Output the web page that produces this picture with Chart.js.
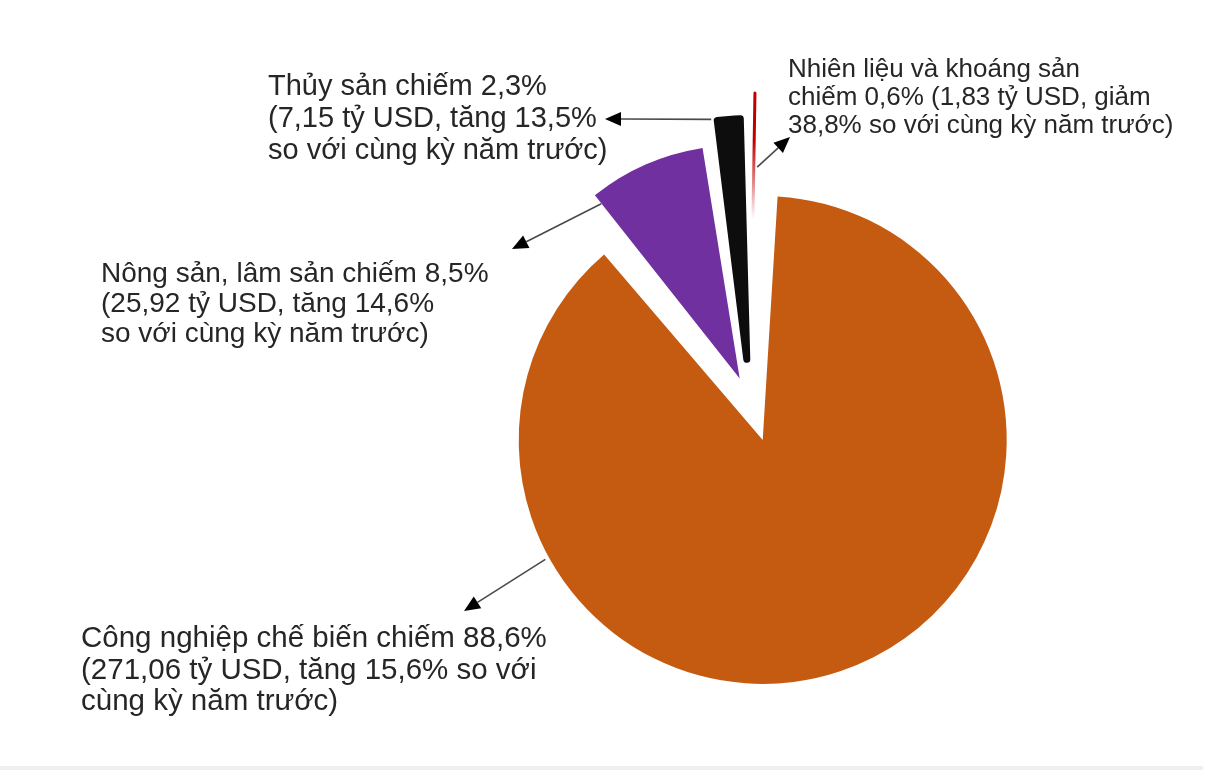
<!DOCTYPE html>
<html lang="vi">
<head>
<meta charset="utf-8">
<title>Cơ cấu xuất khẩu</title>
<script src="https://cdn.jsdelivr.net/npm/chart.js@4.4.1/dist/chart.umd.min.js"></script>
<style>
  html, body { margin: 0; padding: 0; background: #fff; }
  #khung { position: relative; width: 1212px; height: 770px; overflow: hidden; }
  #grafico { display: block; }
  #linea-inferior { position: absolute; left: 0; top: 766px; width: 1203px; height: 4px; background: #efefef; }
</style>
</head>
<body>
<div id="khung">
  <canvas id="grafico" width="1212" height="766"></canvas>
  <div id="linea-inferior"></div>
</div>
<script>
// datos del gráfico
const categorias = ["Công nghiệp chế biến", "Nông sản, lâm sản", "Thủy sản", "Nhiên liệu và khoáng sản"];
const porcentajes = [88.6, 8.5, 2.3, 0.6];      // % del total
const valores = [271.06, 25.92, 7.15, 1.83];    // tỷ USD
const variacion = [15.6, 14.6, 13.5, -38.8];    // % so với cùng kỳ

const colores = ["#C55A11", "#7030A0", "#0D0D0D", "#C00000"];

// formato vietnamita: coma decimal
const fmt = (v) => String(Math.abs(v)).replace(".", ",");
const verbo = (v) => (v >= 0 ? "tăng" : "giảm");

// textos de cada etiqueta, partidos en renglones como en el original
const textos = [
  [
    `${categorias[0]} chiếm ${fmt(porcentajes[0])}%`,
    `(${fmt(valores[0])} tỷ USD, ${verbo(variacion[0])} ${fmt(variacion[0])}% so với`,
    "cùng kỳ năm trước)",
  ],
  [
    `${categorias[1]} chiếm ${fmt(porcentajes[1])}%`,
    `(${fmt(valores[1])} tỷ USD, ${verbo(variacion[1])} ${fmt(variacion[1])}%`,
    "so với cùng kỳ năm trước)",
  ],
  [
    `${categorias[2]} chiếm ${fmt(porcentajes[2])}%`,
    `(${fmt(valores[2])} tỷ USD, ${verbo(variacion[2])} ${fmt(variacion[2])}%`,
    "so với cùng kỳ năm trước)",
  ],
  [
    categorias[3],
    `chiếm ${fmt(porcentajes[3])}% (${fmt(valores[3])} tỷ USD, ${verbo(variacion[3])}`,
    `${fmt(variacion[3])}% so với cùng kỳ năm trước)`,
  ],
];

// dónde va cada etiqueta y de qué parte de la porción sale la flecha
const etiquetas = [
  { x: 81, y: 647, alto: 31.5, fuente: 29.5, frac: 0.75, extra: 4, punta: { x: 464, y: 611 } },
  { x: 101, y: 282, alto: 30, fuente: 28, frac: 0, extra: -8, punta: { x: 512, y: 249 } },
  { x: 268, y: 95, alto: 32, fuente: 29, frac: 0, extra: 2, punta: { x: 605, y: 119 } },
  { x: 788, y: 77, alto: 28, fuente: 26, frac: 1, extra: -74, punta: { x: 790, y: 137 } },
];

// punto sobre el borde de una porción (misma cuenta que hace ArcElement al dibujar con offset)
function puntoArco(arco, frac, extra) {
  const { startAngle, endAngle, x, y, outerRadius, circumference } = arco;
  const off = (arco.options.offset || 0) / 4;
  const medio = (startAngle + endAngle) / 2;
  const fix = 1 - Math.sin(Math.min(Math.PI, circumference));
  const r = outerRadius + off * fix + extra;
  const a = startAngle + frac * (endAngle - startAngle);
  return {
    x: x + Math.cos(medio) * off + Math.cos(a) * r,
    y: y + Math.sin(medio) * off + Math.sin(a) * r,
  };
}

// la porción roja es tan fina que en el original se desvanece hacia el centro
function colorPorcion(c) {
  const i = c.dataIndex;
  const area = c.chart.chartArea;
  if (i !== 3 || !area) return colores[i];
  const g = c.chart.ctx.createLinearGradient(0, area.top + 60, 0, area.top + 235);
  g.addColorStop(0, colores[3]);
  g.addColorStop(0.55, colores[3]);
  g.addColorStop(1, "rgba(192, 0, 0, 0)");
  return g;
}

function flecha(ctx, desde, hasta) {
  const ang = Math.atan2(hasta.y - desde.y, hasta.x - desde.x);
  const largo = 16;
  const ancho = 7;
  const bx = hasta.x - Math.cos(ang) * largo;
  const by = hasta.y - Math.sin(ang) * largo;
  ctx.strokeStyle = "#4a4a4a";
  ctx.lineWidth = 1.6;
  ctx.beginPath();
  ctx.moveTo(desde.x, desde.y);
  ctx.lineTo(bx, by);
  ctx.stroke();
  ctx.fillStyle = "#000";
  ctx.beginPath();
  ctx.moveTo(hasta.x, hasta.y);
  ctx.lineTo(bx + Math.sin(ang) * ancho, by - Math.cos(ang) * ancho);
  ctx.lineTo(bx - Math.sin(ang) * ancho, by + Math.cos(ang) * ancho);
  ctx.closePath();
  ctx.fill();
}

const pluginEtiquetas = {
  id: "etiquetas",
  afterDraw(chart) {
    const ctx = chart.ctx;
    const arcos = chart.getDatasetMeta(0).data;
    ctx.save();
    etiquetas.forEach((et, i) => {
      const desde = puntoArco(arcos[i], et.frac, et.extra);
      flecha(ctx, desde, et.punta);
      ctx.fillStyle = "#262626";
      ctx.font = `${et.fuente}px "Liberation Sans", Arial, sans-serif`;
      ctx.textBaseline = "alphabetic";
      ctx.textAlign = "left";
      textos[i].forEach((linea, j) => ctx.fillText(linea, et.x, et.y + j * et.alto));
    });
    ctx.restore();
  },
};

new Chart(document.getElementById("grafico"), {
  type: "pie",
  data: {
    labels: categorias,
    datasets: [
      {
        data: porcentajes,
        backgroundColor: colorPorcion,
        // borde del mismo color: el offset de Chart.js afina las porciones chicas,
        // así recuperan el ancho que tienen en el original
        borderColor: colorPorcion,
        borderWidth: [0, 5, 7, 3],
        borderJoinStyle: ["miter", "miter", "round", "round"],
        offset: [160, 142, 171, 214],
      },
    ],
  },
  options: {
    responsive: false,
    animation: false,
    rotation: 2,
    radius: 204,
    layout: { padding: { left: 288, right: 0, top: 38, bottom: 0 } },
    plugins: {
      legend: { display: false },
      tooltip: { enabled: false },
    },
  },
  plugins: [pluginEtiquetas],
});
</script>
</body>
</html>
